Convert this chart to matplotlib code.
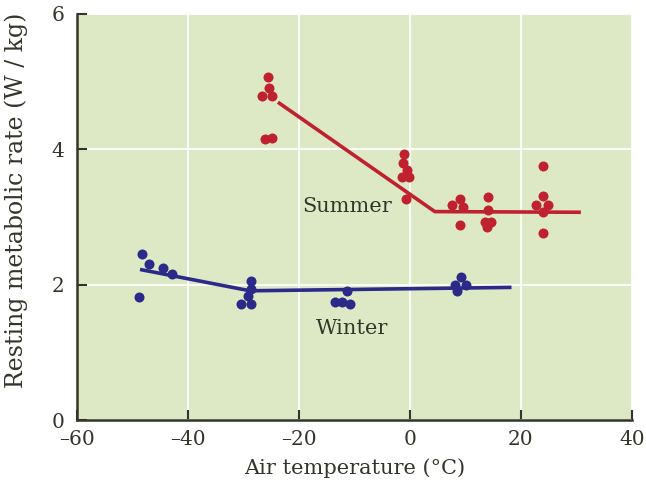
# Resting metabolic rate vs air temperature, summer vs winter birds.
import matplotlib
matplotlib.use("Agg")
import matplotlib.pyplot as plt

# summer (red) measurements
summer_t = [-25.6, -25.4, -26.7, -24.9, -26.1, -24.9,
            -1.1, -1.3, -0.5, -1.4, -0.2, -0.7,
            9.0, 7.6, 9.5, 9.0,
            14.05, 14.05, 13.5, 14.6, 13.9,
            24.0, 24.0, 22.7, 24.9, 24.0, 24.0]
summer_r = [5.07, 4.91, 4.79, 4.79, 4.15, 4.16,
            3.93, 3.80, 3.69, 3.59, 3.59, 3.27,
            3.26, 3.17, 3.15, 2.88,
            3.30, 3.11, 2.93, 2.93, 2.85,
            3.75, 3.31, 3.18, 3.18, 3.08, 2.76]
summer_fit_t = [-23.5, 4.5, 30.5]
summer_fit_r = [4.68, 3.08, 3.07]

# winter (blue) measurements
winter_t = [-48.3, -47.0, -44.5, -42.9, -48.8,
            -28.6, -28.6, -29.2, -30.5, -28.6,
            -11.35, -13.5, -12.3, -10.8,
            9.2, 8.1, 10.1, 8.5]
winter_r = [2.45, 2.31, 2.25, 2.16, 1.82,
            2.06, 1.94, 1.84, 1.71, 1.72,
            1.91, 1.74, 1.74, 1.72,
            2.12, 2.00, 1.99, 1.90]
winter_fit_t = [-48.3, -28.8, 18.0]
winter_fit_r = [2.22, 1.91, 1.96]

xticks = [-60, -40, -20, 0, 20, 40]
yticks = [0, 2, 4, 6]

RED = "#c0212f"
BLUE = "#2c2a88"
BG = "#dde9c4"
INK = "#33352b"

plt.rcParams["font.family"] = ["DejaVu Serif"]
FS = 15

fig = plt.figure(figsize=(6.46, 4.96), dpi=100)
ax = fig.add_axes([0.119, 0.153, 0.859, 0.819])
ax.set_facecolor(BG)

ax.set_xlim(-60, 40)
ax.set_ylim(0, 6)
ax.set_xticks(xticks)
ax.set_xticklabels([str(t).replace("-", "\u2013") for t in xticks])
ax.set_yticks(yticks)
ax.grid(True, color="white", lw=1.3)
ax.set_axisbelow(True)

for s in ("top", "right"):
    ax.spines[s].set_visible(False)
for s in ("left", "bottom"):
    ax.spines[s].set_color(INK)
    ax.spines[s].set_linewidth(1.8)
ax.tick_params(direction="in", length=7, width=1.5, color=INK,
               labelsize=14.5, labelcolor=INK)
ax.tick_params(axis="x", pad=7)
ax.tick_params(axis="y", pad=9)

ax.plot(summer_fit_t, summer_fit_r, color=RED, lw=2.6, zorder=2)
ax.plot(winter_fit_t, winter_fit_r, color=BLUE, lw=2.6, zorder=2)
ax.scatter(summer_t, summer_r, s=52, color=RED, lw=0, zorder=3)
ax.scatter(winter_t, winter_r, s=52, color=BLUE, lw=0, zorder=3)

ax.text(-11.3, 3.15, "Summer", fontsize=FS, color=INK, ha="center", va="center")
ax.text(-10.4, 1.36, "Winter", fontsize=FS, color=INK, ha="center", va="center")

ax.set_xlabel("Air temperature (\u00b0C)", fontsize=FS, color=INK, labelpad=7)
ax.set_ylabel("Resting metabolic rate (W / kg)", fontsize=17, color=INK)
ax.yaxis.set_label_coords(-0.088, 0.542)

fig.savefig("out.png", dpi=100)
